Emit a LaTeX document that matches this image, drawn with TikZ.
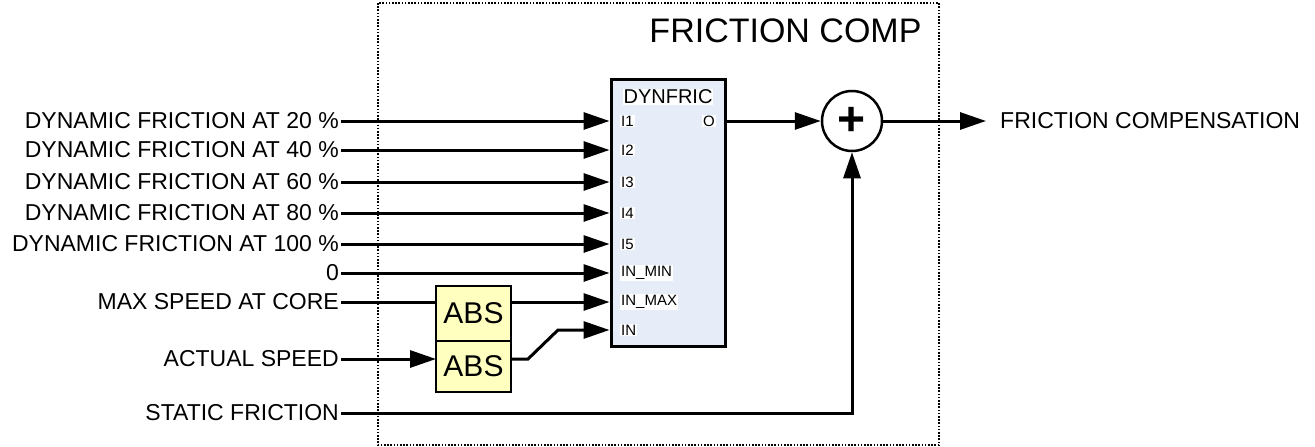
\documentclass[tikz,border=0pt]{standalone}
\usepackage{fontspec}
\setmainfont{Liberation Sans}
\usepackage{tikz}
\usetikzlibrary{positioning}
\usetikzlibrary{arrows.meta}
\usepackage{xcolor}
\definecolor{dynblue}{RGB}{230,237,248}
\definecolor{absyellow}{RGB}{255,255,192}
\tikzstyle{lbl} = [anchor=east,inner sep=2pt,font=\fontsize{23}{27}\selectfont]
\tikzstyle{port} = [anchor=west,inner sep=1pt,fill=white,font=\fontsize{15}{17}\selectfont]
\tikzstyle{sig} = [line width=3pt]
\tikzstyle{absbox} = [rectangle,draw=black,line width=2.5pt,fill=absyellow,minimum width=75pt,inner sep=0pt,outer sep=0pt,font=\fontsize{30}{34}\selectfont]
\tikzset{>={Triangle[length=26pt,width=17pt]}}

\begin{document}
\begin{tikzpicture}[x=1pt,y=-1pt]
  \useasboundingbox (0,0) rectangle (1315,447);
  \draw [line width=1.6pt,dash pattern=on 1.6pt off 1.6pt] (378,3) rectangle (939,445);
  \node [anchor=base east,font=\fontsize{34}{40}\selectfont] (title) at (925,42) {FRICTION COMP};

  % dynfric block
  \node [draw,line width=3pt,fill=dynblue,minimum width=114pt,minimum height=267pt] (dyn) at (668,212.5) {};
  \node [fill=white,inner sep=1pt,font=\fontsize{20}{24}\selectfont] (dname) at (668,97) {DYNFRIC};
  \node [port] (p1) at (620,121) {I1};
  \node [port] (p2) at (620,150) {I2};
  \node [port] (p3) at (620,182) {I3};
  \node [port] (p4) at (620,213) {I4};
  \node [port] (p5) at (620,244) {I5};
  \node [port] (pmin) at (620,273) {IN\_MIN};
  \node [port] (pmax) at (620,302) {IN\_MAX};
  \node [port] (pin) at (620,330) {IN};
  \node [port,anchor=east] (po) at (716,121) {O};

  % inputs
  \node [lbl] (l1) at (341,121) {DYNAMIC FRICTION AT 20 \%};
  \node [lbl] (l2) at (341,150) {DYNAMIC FRICTION AT 40 \%};
  \node [lbl] (l3) at (341,182) {DYNAMIC FRICTION AT 60 \%};
  \node [lbl] (l4) at (341,213) {DYNAMIC FRICTION AT 80 \%};
  \node [lbl] (l5) at (341,244) {DYNAMIC FRICTION AT 100 \%};
  \node [lbl] (l0) at (341,273) {0};
  \node [lbl] (lms) at (341,302) {MAX SPEED AT CORE};
  \node [lbl] (las) at (341,359) {ACTUAL SPEED};
  \node [lbl] (lsf) at (341,413) {STATIC FRICTION};

  \draw [sig,->] (l1.east) -- (dyn.west |- p1);
  \draw [sig,->] (l2.east) -- (dyn.west |- p2);
  \draw [sig,->] (l3.east) -- (dyn.west |- p3);
  \draw [sig,->] (l4.east) -- (dyn.west |- p4);
  \draw [sig,->] (l5.east) -- (dyn.west |- p5);
  \draw [sig,->] (l0.east) -- (dyn.west |- pmin);

  % abs blocks
  \node [absbox,minimum height=55pt] (abs1) at (473.5,313.5) {ABS};
  \node [absbox,minimum height=51pt,below=0pt of abs1] (abs2) {ABS};
  \draw [sig] (lms.east) -- (abs1.west |- lms.east);
  \draw [sig,->] (abs1.east |- pmax) -- (dyn.west |- pmax);
  \draw [sig,->] (las.east) -- (abs2.west |- las.east);
  \draw [sig,->] (abs2.east |- las.east) -- ++(17,0) -- (558,330) -- (dyn.west |- pin);

  % sum and output
  \node [draw,circle,line width=2.5pt,minimum size=60pt,inner sep=0pt,font=\fontsize{48}{52}\selectfont\bfseries] (sum) at (852,121) {+};
  \node [anchor=west,inner xsep=14pt,inner ysep=0pt,font=\fontsize{23}{27}\selectfont] (out) at (986,121) {FRICTION COMPENSATION};
  \draw [sig,->] (dyn.east |- po) -- (sum.west);
  \draw [sig,->] (sum.east) -- (out.west);
  \draw [sig,->] (lsf.east) -| (sum.south);
\end{tikzpicture}
\end{document}
